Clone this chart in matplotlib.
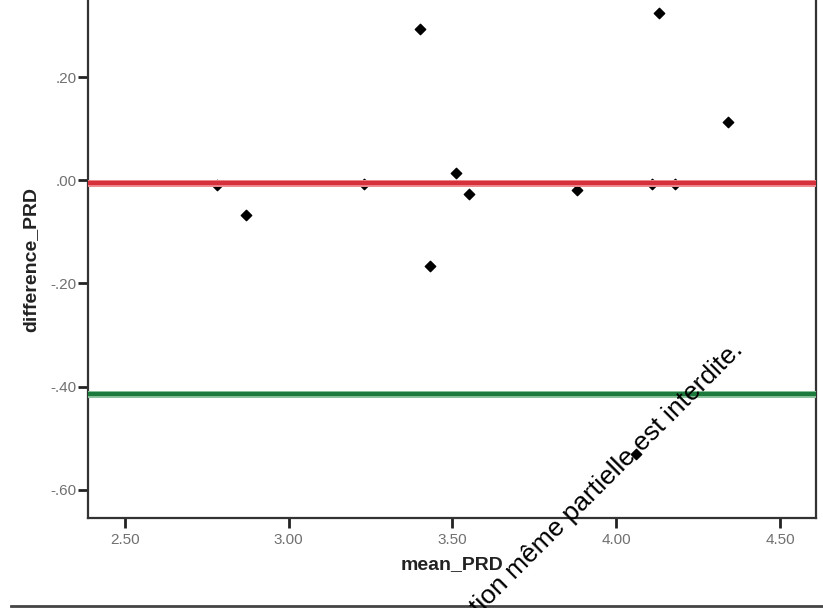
import numpy as np
import matplotlib
matplotlib.use('Agg')
import matplotlib.pyplot as plt
from matplotlib.ticker import FuncFormatter
from matplotlib.lines import Line2D

plt.rcParams['font.family'] = ['Liberation Sans', 'DejaVu Sans']

# Bland-Altman style data
mean_prd = [2.78, 2.87, 3.23, 3.40, 3.43, 3.51, 3.55, 3.88, 4.06, 4.11, 4.13, 4.18, 4.34]
diff_prd = [-0.008, -0.068, -0.007, 0.294, -0.167, 0.014, -0.027, -0.018, -0.530, -0.007, 0.324, -0.007, 0.113]
mean_diff = -0.006
lower_limit = -0.414
x_ticks = [2.50, 3.00, 3.50, 4.00, 4.50]
y_ticks = [-0.60, -0.40, -0.20, 0.00, 0.20]


def spss_fmt(v, pos):
    s = '%.2f' % v
    if s.startswith('-0'):
        s = '-' + s[2:]
    elif s.startswith('0'):
        s = s[1:]
    return s


fig = plt.figure(figsize=(8.23, 6.08), dpi=100)
ax = fig.add_axes([88 / 823, 90 / 608, 728 / 823, 518 / 608])

ax.scatter(mean_prd, diff_prd, marker='D', s=28, color='black', zorder=2)
ax.axhline(mean_diff, color='#f08a8f', lw=5, zorder=3)
ax.axhline(mean_diff, color='#d6313b', lw=3, zorder=3)
ax.axhline(lower_limit, color='#8cc49c', lw=5, zorder=3)
ax.axhline(lower_limit, color='#1b7a3c', lw=3, zorder=3)

ax.set_xlim(2.387, 4.61)
ax.set_ylim(-0.655, 0.35)
ax.set_xticks(x_ticks)
ax.set_yticks(y_ticks)
ax.xaxis.set_major_formatter(FuncFormatter(spss_fmt))
ax.yaxis.set_major_formatter(FuncFormatter(spss_fmt))
ax.tick_params(axis='both', direction='out', length=7, width=2, color='#222222',
               labelsize=11, labelcolor='#707070')
ax.tick_params(axis='x', pad=4)
ax.tick_params(axis='y', pad=1)

ax.spines['top'].set_visible(False)
for side in ['left', 'right', 'bottom']:
    ax.spines[side].set_color('#333333')
    ax.spines[side].set_linewidth(1.6)

ax.set_xlabel('mean_PRD', fontsize=14, fontweight='bold', color='#222222', labelpad=6)
ax.set_ylabel('difference_PRD', fontsize=14, fontweight='bold', color='#222222', labelpad=8)

# black diagonal watermark text (its start is cut by the picture edge)
fig.text(744 / 823, 1 - 351 / 608, 'tion même partielle est interdite.',
         rotation=45, rotation_mode='anchor', ha='right', va='baseline',
         fontsize=19, color='black')

# frame line at the bottom
fig.add_artist(Line2D([11 / 823, 1.0], [2 / 608, 2 / 608], color='#444444', lw=2,
                      transform=fig.transFigure))

fig.savefig('out.png', dpi=100)
